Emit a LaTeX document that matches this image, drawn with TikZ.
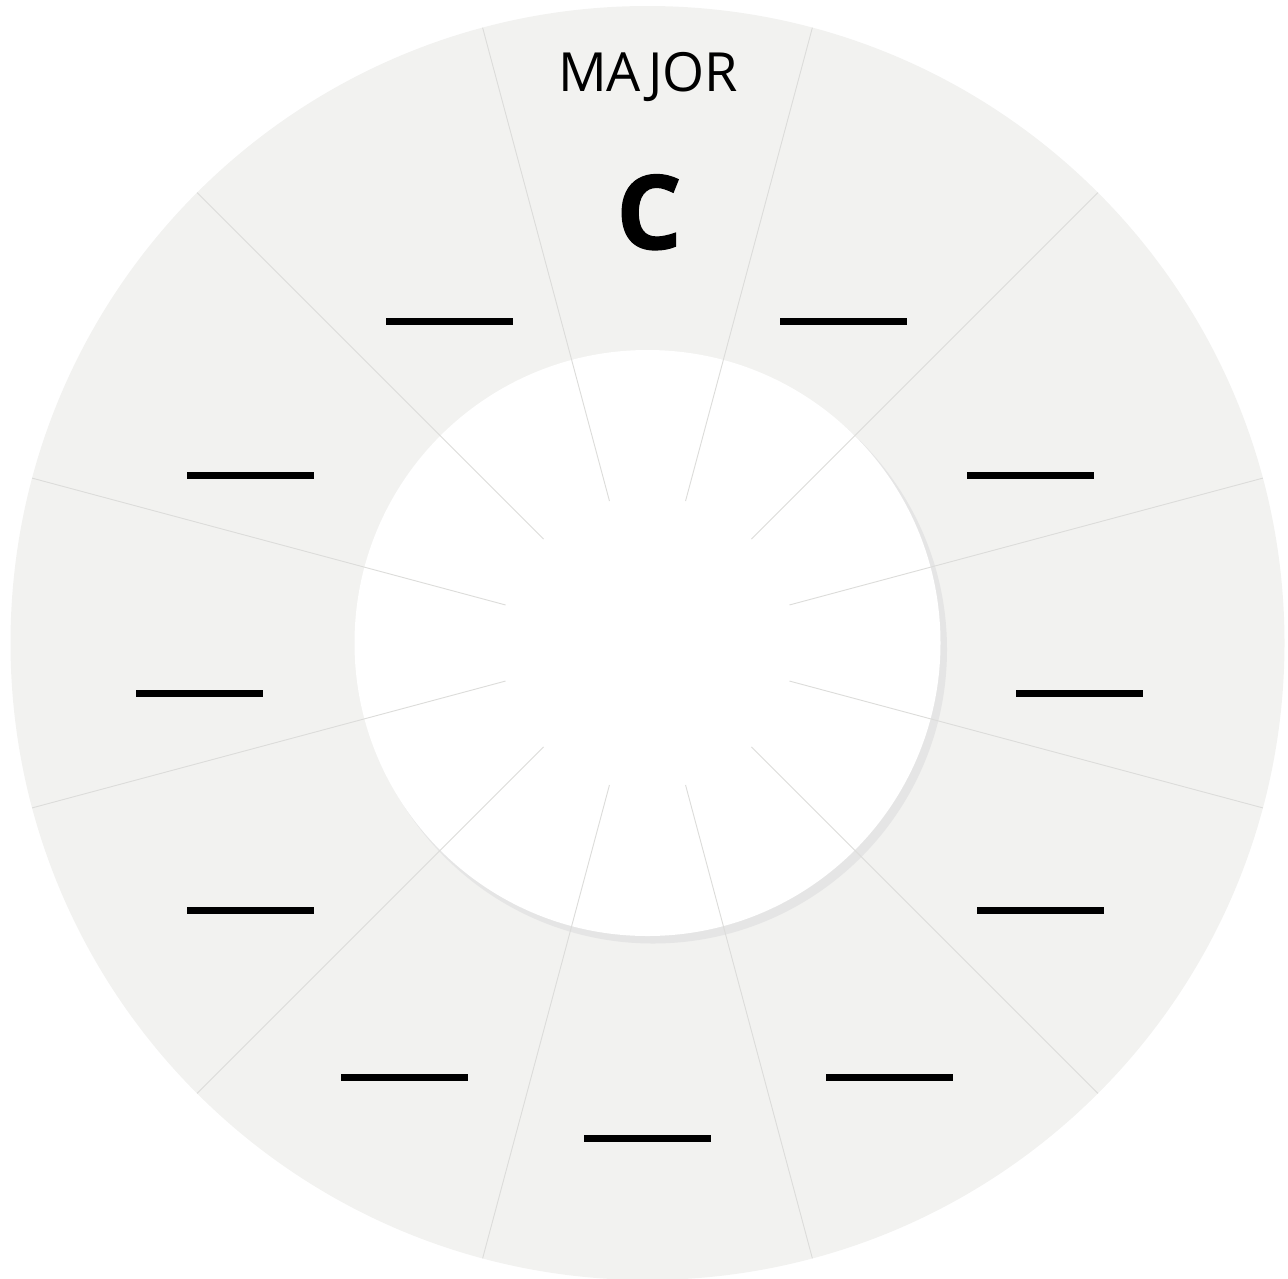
\documentclass[tikz,border=0pt]{standalone}
\usepackage{fontspec}
\setmainfont{Open Sans}
\newfontfamily\heavyfont[BoldFeatures={FakeBold=1.2}]{Open Sans}
\definecolor{sectorbg}{RGB}{242,242,240}
\definecolor{divline}{RGB}{220,220,218}
\definecolor{shadowc}{RGB}{229,229,229}
\begin{document}
\begin{tikzpicture}[x=1pt,y=-1pt,
  blank/.style={fill=black,inner sep=0pt,minimum width=127pt,minimum height=7pt},
  divider/.style={draw=divline,line width=0.9pt},
  title/.style={inner sep=0pt,anchor=base,font=\fontsize{54}{54}\selectfont},
  keyname/.style={inner sep=0pt,anchor=base,font=\fontsize{103}{103}\heavyfont\bfseries}]
\useasboundingbox (0,0) rectangle (1288,1278);
\clip (0,0) rectangle (1288,1278);
\coordinate (c) at (647.5,643);
\coordinate (cs) at (653,649.5);
\fill[sectorbg] (c) circle[radius=637pt];
\fill[shadowc] (cs) circle[radius=294pt];
\fill[white] (c) circle[radius=293pt];
\foreach \a in {15,45,...,345}
  \draw[divider,shift={(c)}] (\a:147pt) -- (\a:637pt);
\node[title] (major) at (648,91.5) {MAJOR};
\node[keyname] (key) at (649,249) {C};
\node[blank] (b1) at (843.5,321.5) {};
\node[blank] (b2) at (1030.5,475) {};
\node[blank] (b3) at (1079.5,693) {};
\node[blank] (b4) at (1040.5,910) {};
\node[blank] (b5) at (889.5,1077) {};
\node[blank] (b6) at (647.5,1138) {};
\node[blank] (b7) at (404.5,1077) {};
\node[blank] (b8) at (250.5,910) {};
\node[blank] (b9) at (199.5,693) {};
\node[blank] (b10) at (250.5,475) {};
\node[blank] (b11) at (449.5,321.5) {};
\end{tikzpicture}
\end{document}
